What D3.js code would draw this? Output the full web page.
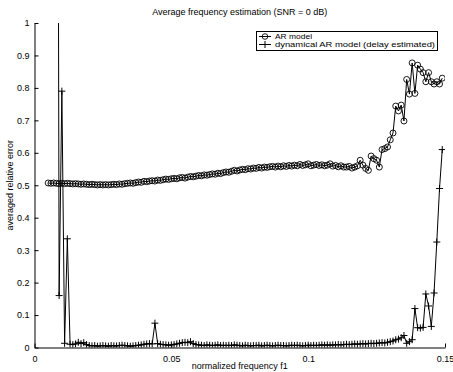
<!DOCTYPE html>
<html>
<head>
<meta charset="utf-8">
<script src="https://cdn.jsdelivr.net/npm/d3@7"></script>
<style>
  html, body { margin: 0; padding: 0; background: #fff; }
  svg { display: block; font-family: "Liberation Sans", Arial, Helvetica, sans-serif; }
</style>
</head>
<body>
<svg id="chart" width="453" height="372"></svg>
<script>
// ---- data ----
const title = "Average frequency estimation (SNR = 0 dB)";
const xLabel = "normalized frequency f1";
const yLabel = "averaged relative error";
const seriesNames = ["AR model", "dynamical AR model (delay estimated)"];
const xTicks = [0, 0.05, 0.1, 0.15];
const xTickLabels = ["0", "0.05", "0.1", "0.15"];
const yTicks = [0, 0.1, 0.2, 0.3, 0.4, 0.5, 0.6, 0.7, 0.8, 0.9, 1];
const yTickLabels = ["0", "0.1", "0.2", "0.3", "0.4", "0.5", "0.6", "0.7", "0.8", "0.9", "1"];

// normalized frequency f1: 0.005 .. 0.149, step 0.001
const freq = d3.range(145).map(i => +(0.005 + 0.001 * i).toFixed(3));

const arModel = [
  0.507,0.506,0.507,0.506,0.505,0.506,0.505,0.506,0.505,0.504,
  0.505,0.504,0.503,0.504,0.503,0.502,0.503,0.502,0.501,0.502,
  0.501,0.502,0.501,0.502,0.503,0.502,0.504,0.503,0.505,0.506,
  0.507,0.506,0.508,0.510,0.509,0.512,0.511,0.513,0.514,0.513,
  0.516,0.515,0.517,0.519,0.518,0.520,0.521,0.520,0.523,0.524,
  0.522,0.525,0.527,0.526,0.528,0.530,0.529,0.532,0.531,0.533,
  0.535,0.534,0.537,0.536,0.539,0.541,0.540,0.543,0.546,0.544,
  0.547,0.549,0.548,0.551,0.550,0.553,0.552,0.555,0.553,0.556,
  0.555,0.557,0.558,0.556,0.559,0.557,0.560,0.558,0.561,0.559,
  0.562,0.560,0.564,0.561,0.563,0.566,0.560,0.562,0.564,0.561,
  0.563,0.560,0.562,0.566,0.559,0.561,0.557,0.560,0.556,0.556,
  0.558,0.553,0.556,0.560,0.577,0.562,0.552,0.546,0.590,0.582,
  0.577,0.556,0.610,0.613,0.618,0.640,0.661,0.744,0.729,0.747,
  0.698,0.826,0.781,0.877,0.783,0.870,0.858,0.847,0.819,0.847,
  0.819,0.812,0.819,0.812,0.830
];

const dynAR = [
  4.0,4.0,4.0,4.0,0.160,0.790,0.013,0.335,0.010,0.009,
  0.011,0.016,0.012,0.015,0.009,0.006,0.005,0.006,0.004,0.005,
  0.006,0.005,0.004,0.006,0.005,0.005,0.006,0.007,0.006,0.005,
  0.004,0.005,0.006,0.007,0.008,0.010,0.011,0.012,0.011,0.075,
  0.012,0.010,0.009,0.008,0.007,0.008,0.009,0.011,0.013,0.015,
  0.016,0.015,0.018,0.012,0.009,0.008,0.007,0.006,0.008,0.007,
  0.006,0.007,0.008,0.006,0.007,0.006,0.007,0.006,0.008,0.007,
  0.006,0.005,0.007,0.006,0.005,0.006,0.006,0.007,0.005,0.006,
  0.007,0.006,0.005,0.006,0.007,0.006,0.006,0.005,0.006,0.007,
  0.006,0.007,0.006,0.005,0.006,0.007,0.006,0.007,0.006,0.007,
  0.008,0.007,0.008,0.007,0.008,0.008,0.009,0.008,0.009,0.010,
  0.009,0.010,0.011,0.010,0.011,0.012,0.011,0.012,0.013,0.012,
  0.013,0.014,0.015,0.014,0.016,0.018,0.020,0.024,0.026,0.030,
  0.037,0.013,0.018,0.024,0.120,0.061,0.060,0.062,0.165,0.128,
  0.065,0.168,0.325,0.490,0.610
];

// ---- layout ----
const svg = d3.select("#chart");
const pL = 34.5, pR = 445, pT = 23, pB = 347.5;
const x = d3.scaleLinear().domain([0, 0.15]).range([pL, pR]);
const y = d3.scaleLinear().domain([0, 1]).range([pB, pT]);

svg.append("defs").append("clipPath").attr("id", "plotclip")
  .append("rect").attr("x", pL).attr("y", pT)
  .attr("width", pR - pL).attr("height", pB - pT);

// axes (ticks inward)
const xAxis = d3.axisBottom(x).tickValues(xTicks)
  .tickFormat((d, i) => xTickLabels[i]).tickSizeInner(-4).tickSizeOuter(0).tickPadding(8);
const yAxis = d3.axisLeft(y).tickValues(yTicks)
  .tickFormat((d, i) => yTickLabels[i]).tickSizeInner(-4).tickSizeOuter(0).tickPadding(5);

const gx = svg.append("g").attr("transform", `translate(0,${pB})`).call(xAxis);
const gy = svg.append("g").attr("transform", `translate(${pL},0)`).call(yAxis);
[gx, gy].forEach(g => {
  g.selectAll("path.domain").attr("stroke", "#000").attr("stroke-width", 1);
  g.selectAll(".tick line").attr("stroke", "#000").attr("stroke-width", 1);
  g.selectAll(".tick text").attr("fill", "#000").style("font-size", "9px")
    .style("font-family", "'Liberation Sans', Arial, sans-serif");
});

// data
const plot = svg.append("g").attr("clip-path", "url(#plotclip)");
const arPts = freq.map((f, i) => [f, arModel[i]]);
const dynPts = freq.map((f, i) => [f, dynAR[i]]);
const line = d3.line().x(d => x(d[0])).y(d => y(d[1]));

plot.append("path").datum(arPts).attr("d", line)
  .attr("fill", "none").attr("stroke", "#000").attr("stroke-width", 1);
plot.selectAll("circle.ar").data(arPts).enter().append("circle")
  .attr("class", "ar").attr("cx", d => x(d[0])).attr("cy", d => y(d[1]))
  .attr("r", 3).attr("fill", "none").attr("stroke", "#000").attr("stroke-width", 0.9);

plot.append("path").datum(dynPts).attr("d", line)
  .attr("fill", "none").attr("stroke", "#000").attr("stroke-width", 1);
const ms = 3.5;
plot.selectAll("path.dyn").data(dynPts).enter().append("path")
  .attr("class", "dyn")
  .attr("d", d => `M${x(d[0]) - ms},${y(d[1])}H${x(d[0]) + ms}M${x(d[0])},${y(d[1]) - ms}V${y(d[1]) + ms}`)
  .attr("fill", "none").attr("stroke", "#000").attr("stroke-width", 1);

// title and labels
svg.append("text").attr("x", (pL + pR) / 2).attr("y", 15)
  .attr("text-anchor", "middle").style("font-size", "9px").attr("fill", "#000").text(title);
svg.append("text").attr("x", (pL + pR) / 2).attr("y", 369)
  .attr("text-anchor", "middle").style("font-size", "9px").attr("fill", "#000").text(xLabel);
svg.append("text").attr("transform", `translate(13,${(pT + pB) / 2}) rotate(-90)`)
  .attr("text-anchor", "middle").style("font-size", "9px").attr("fill", "#000").text(yLabel);

// legend
const lg = svg.append("g");
lg.append("rect").attr("x", 256.5).attr("y", 31.5).attr("width", 181).attr("height", 19)
  .attr("fill", "#fff").attr("stroke", "#000").attr("stroke-width", 1);
const rows = [36.5, 44.5];
const legendWidths = [37, 160];
seriesNames.forEach((name, i) => {
  const ry = rows[i];
  lg.append("line").attr("x1", 259).attr("x2", 271).attr("y1", ry).attr("y2", ry)
    .attr("stroke", "#000").attr("stroke-width", 1);
  if (i === 0) {
    lg.append("circle").attr("cx", 265).attr("cy", ry).attr("r", 2.8)
      .attr("fill", "none").attr("stroke", "#000").attr("stroke-width", 0.9);
  } else {
    lg.append("path").attr("d", `M265,${ry - 3.5}V${ry + 3.5}`)
      .attr("stroke", "#000").attr("stroke-width", 1);
  }
  lg.append("text").attr("x", 275).attr("y", ry + 2.6).style("font-size", "7.6px")
    .attr("textLength", legendWidths[i]).attr("lengthAdjust", "spacingAndGlyphs")
    .attr("fill", "#000").text(name);
});
</script>
</body>
</html>
